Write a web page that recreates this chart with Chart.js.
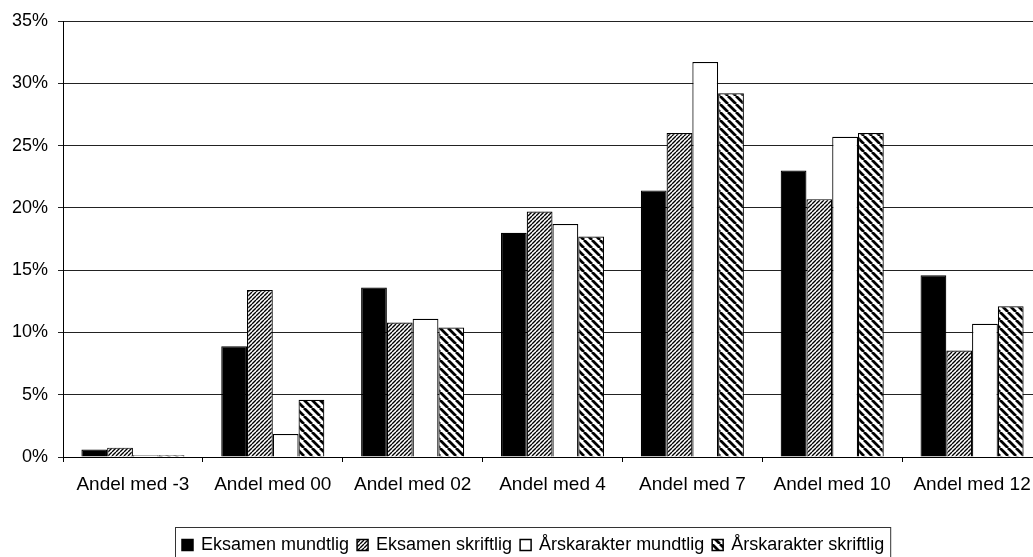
<!DOCTYPE html>
<html>
<head>
<meta charset="utf-8">
<script src="https://cdn.jsdelivr.net/npm/chart.js@4"></script>
<style>
  html, body { margin: 0; padding: 0; overflow: hidden; background: #fff; }
  canvas { display: block; }
</style>
</head>
<body>
<canvas id="karakterer" width="1050" height="557"></canvas>
<script>
const categories = ['Andel med -3', 'Andel med 00', 'Andel med 02', 'Andel med 4', 'Andel med 7', 'Andel med 10', 'Andel med 12'];
const seriesNames = ['Eksamen mundtlig', 'Eksamen skriftlig', 'Årskarakter mundtlig', 'Årskarakter skriftlig'];
// percent
const eksamenMundtlig = [0.6, 8.9, 13.6, 18.0, 21.4, 23.0, 14.6];
const eksamenSkriftlig = [0.75, 13.4, 10.8, 19.7, 26.0, 20.7, 8.55];
const aarsMundtlig = [0.15, 1.85, 11.1, 18.7, 31.7, 25.7, 10.7];
const aarsSkriftlig = [0.15, 4.6, 10.4, 17.7, 29.2, 26.0, 12.1];
const yTicks = [0, 5, 10, 15, 20, 25, 30, 35];

// hatch fills, "/" fine and "\" wide
function makeHatch(size, width, forward) {
    const c = document.createElement('canvas');
    c.width = size; c.height = size;
    const g = c.getContext('2d');
    g.fillStyle = '#fff';
    g.fillRect(0, 0, size, size);
    g.strokeStyle = '#000';
    g.lineWidth = width;
    g.beginPath();
    for (let k = -1; k <= 1; k++) {
        if (forward) {
            g.moveTo(k * size, size); g.lineTo(k * size + size, 0);
        } else {
            g.moveTo(k * size, 0); g.lineTo(k * size + size, size);
        }
    }
    g.stroke();
    return g.createPattern(c, 'repeat');
}

const fineHatch = makeHatch(4, 1.4, true);
const wideHatch = makeHatch(8, 2.8, false);
const fills = ['#000', fineHatch, '#fff', wideHatch];

Chart.defaults.font.family = '"Liberation Sans", Arial, sans-serif';
Chart.defaults.color = '#000';

// legend in a box, drawn by hand so it can sit like the original
const boxLegend = {
    id: 'boxLegend',
    afterDraw(chart) {
        const ctx = chart.ctx;
        ctx.save();
        ctx.font = '18px "Liberation Sans", Arial, sans-serif';
        ctx.textBaseline = 'middle';
        const mark = 11, gapText = 8, gapItem = 8, y = 545;
        const widths = seriesNames.map(n => ctx.measureText(n).width);
        let total = 0;
        widths.forEach((w, i) => { total += mark + gapText + w + (i < widths.length - 1 ? gapItem : 0); });
        let x = 182;
        ctx.strokeStyle = '#333';
        ctx.lineWidth = 1;
        ctx.strokeRect(x - 6.5, 527.5, total + 13, 60);
        seriesNames.forEach((name, i) => {
            ctx.fillStyle = fills[i];
            ctx.fillRect(x, y - mark / 2, mark, mark);
            ctx.strokeStyle = '#000';
            ctx.lineWidth = 1.5;
            ctx.strokeRect(x, y - mark / 2, mark, mark);
            ctx.fillStyle = '#000';
            ctx.fillText(name, x + mark + gapText, y);
            x += mark + gapText + widths[i] + gapItem;
        });
        ctx.restore();
    }
};

const ctx = document.getElementById('karakterer');

new Chart(ctx, {
    type: 'bar',
    data: {
        labels: categories,
        datasets: [
            { label: seriesNames[0], data: eksamenMundtlig, backgroundColor: fills[0] },
            { label: seriesNames[1], data: eksamenSkriftlig, backgroundColor: fills[1] },
            { label: seriesNames[2], data: aarsMundtlig, backgroundColor: fills[2] },
            { label: seriesNames[3], data: aarsSkriftlig, backgroundColor: fills[3] }
        ].map(d => Object.assign(d, {
            borderColor: '#000',
            borderWidth: 1.2,
            barPercentage: 1,
            categoryPercentage: 0.737
        }))
    },
    options: {
        responsive: false,
        devicePixelRatio: 1,
        animation: false,
        layout: { padding: { top: 21, right: 8, left: 0, bottom: 0 } },
        plugins: {
            legend: { display: false },
            tooltip: { enabled: false }
        },
        scales: {
            x: {
                offset: true,
                grid: { offset: true, drawOnChartArea: false, drawTicks: true, tickLength: 5, color: '#000' },
                border: { color: '#000', width: 1 },
                ticks: { color: '#000', font: { size: 19 }, padding: 11, maxRotation: 0, autoSkip: false },
                afterFit(s) { s.height = 100; }
            },
            y: {
                min: 0,
                max: 35,
                grid: { color: '#222', tickLength: 5, lineWidth: 1 },
                border: { color: '#000', width: 1 },
                ticks: { color: '#000', font: { size: 18 }, padding: 10, callback: v => v + '%' },
                afterBuildTicks(s) { s.ticks = yTicks.map(v => ({ value: v })); },
                afterFit(s) { s.width = 63; }
            }
        }
    },
    plugins: [boxLegend]
});
</script>
</body>
</html>
